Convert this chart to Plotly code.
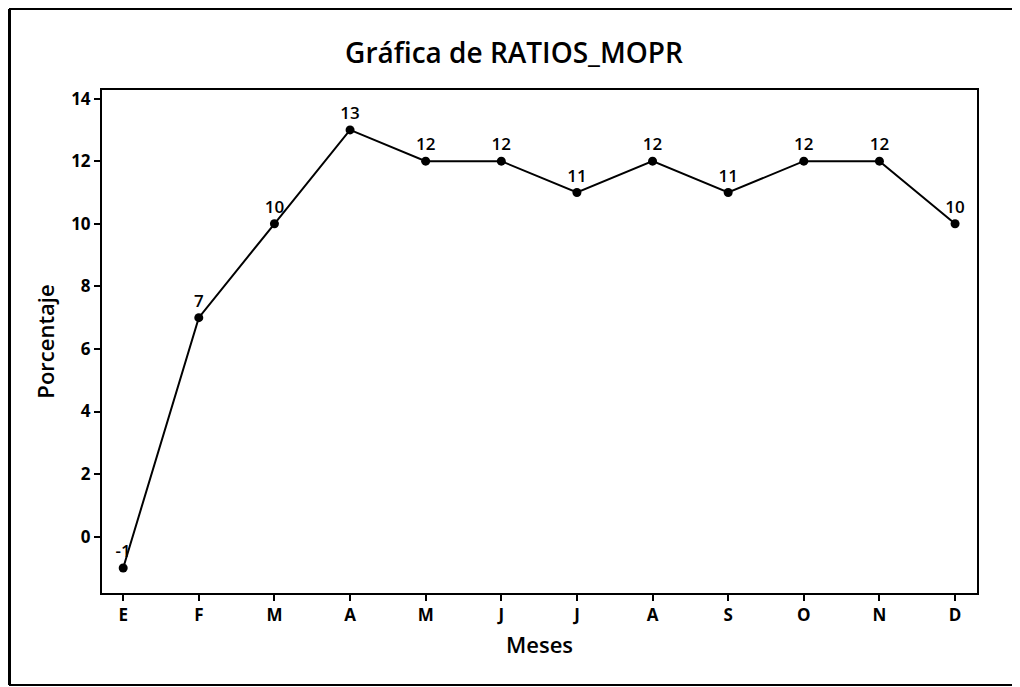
import plotly.graph_objects as go

meses = ["E", "F", "M", "A", "M", "J", "J", "A", "S", "O", "N", "D"]
valores = [-1, 7, 10, 13, 12, 12, 11, 12, 11, 12, 12, 10]
y_ticks = [0, 2, 4, 6, 8, 10, 12, 14]

# page body has an 8px margin, so the figure is sized to fit inside the window
W, H = 1012, 679
L, R, T, B = 94, 43, 82, 94
pw, ph = W - L - R, H - T - B

def px_x(p):
    return (p - L) / pw

def px_y(p):
    return (H - B - p) / ph

x_idx = list(range(len(meses)))

fig = go.Figure()
fig.add_trace(go.Scatter(
    x=x_idx, y=valores,
    mode="lines+markers+text",
    line=dict(color="black", width=2),
    marker=dict(color="black", size=9),
    text=[str(v) for v in valores],
    textposition="top center",
    textfont=dict(family="Open Sans", size=17, color="black", weight=600),
    cliponaxis=False,
    showlegend=False,
))

axis_font = dict(family="Open Sans", size=17, color="black", weight=700)

fig.update_layout(
    width=W, height=H,
    margin=dict(l=L, r=R, t=T, b=B),
    paper_bgcolor="white",
    plot_bgcolor="white",
    title=dict(text="Gráfica de RATIOS_MOPR", x=0.5, xanchor="center",
               y=1 - 45 / H, yanchor="middle",
               font=dict(family="Open Sans", size=28, color="black", weight=600)),
    xaxis=dict(
        tickmode="array", tickvals=x_idx, ticktext=meses,
        range=[-0.28, 11.29],
        showgrid=False, zeroline=False,
        showline=True, linecolor="black", linewidth=2, mirror=True,
        ticks="outside", ticklen=6, tickwidth=2, tickcolor="black",
        tickfont=axis_font,
        title=dict(text="Meses", font=dict(family="Open Sans", size=22, color="black", weight=600), standoff=12),
    ),
    yaxis=dict(
        tickmode="array", tickvals=y_ticks,
        range=[-1.80, 14.275],
        showgrid=False, zeroline=False,
        showline=True, linecolor="black", linewidth=2, mirror=True,
        ticks="outside", ticklen=6, tickwidth=2, tickcolor="black",
        tickfont=axis_font,
        title=dict(text="Porcentaje", font=dict(family="Open Sans", size=22, color="black", weight=600), standoff=10),
    ),
    shapes=[
        dict(type="line", xref="paper", yref="paper",
             x0=px_x(1.5), x1=px_x(1.5), y0=px_y(1), y1=px_y(677),
             line=dict(color="black", width=3)),
        dict(type="line", xref="paper", yref="paper",
             x0=px_x(1), x1=px_x(W), y0=px_y(1), y1=px_y(1),
             line=dict(color="black", width=2)),
        dict(type="line", xref="paper", yref="paper",
             x0=px_x(1), x1=px_x(W), y0=px_y(677), y1=px_y(677),
             line=dict(color="black", width=2)),
    ],
)

fig.write_html("out.html")
